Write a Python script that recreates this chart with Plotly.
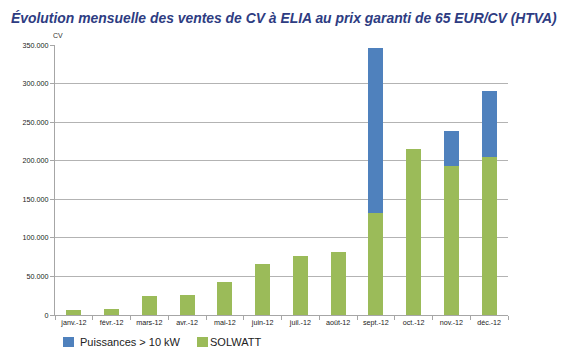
import plotly.graph_objects as go

months = ["janv.-12", "févr.-12", "mars-12", "avr.-12", "mai-12", "juin-12",
          "juil.-12", "août-12", "sept.-12", "oct.-12", "nov.-12", "déc.-12"]
solwatt = [6900, 7800, 25000, 25900, 42600, 65900, 77100, 82300, 132200, 214800, 193500, 205200]
puissances = [0, 0, 0, 0, 0, 0, 0, 0, 214300, 0, 45000, 84800]
y_ticks = [0, 50000, 100000, 150000, 200000, 250000, 300000, 350000]
y_tick_labels = ["0", "50.000", "100.000", "150.000", "200.000", "250.000", "300.000", "350.000"]

COL_SOL = "#9BBB59"
COL_PUI = "#4F81BD"
NAME_SOL = "SOLWATT"
NAME_PUI = "Puissances > 10 kW"

fig = go.Figure()
fig.add_trace(go.Bar(x=months, y=solwatt, name=NAME_SOL, marker_color=COL_SOL,
                     marker_line_width=0, showlegend=False))
fig.add_trace(go.Bar(x=months, y=puissances, name=NAME_PUI, marker_color=COL_PUI,
                     marker_line_width=0, showlegend=False))

# page body has an 8px margin: figure is sized/positioned to compensate
OFF = 8
W, H = 567 - OFF, 356 - OFF
L, R, T, B = 55 - OFF, 567 - 508, 45 - OFF, 356 - 315
pw, ph = W - L - R, H - T - B


def px_x(p):
    return (p - OFF - L) / pw


def px_y(p):
    return (H - B - (p - OFF)) / ph


fig.update_layout(
    width=W, height=H,
    barmode="stack", bargap=0.6,
    plot_bgcolor="white", paper_bgcolor="white",
    margin=dict(l=L, r=R, t=T, b=B, autoexpand=False),
    font=dict(family="Liberation Sans, Arial", color="#333"),
)

# title as annotation placed just inside the top edge
fig.add_annotation(text="Évolution mensuelle des ventes de CV à ELIA au prix garanti de 65 EUR/CV (HTVA)",
                   xref="paper", yref="paper", x=px_x(9), y=px_y(8), xanchor="left", yanchor="top",
                   showarrow=False,
                   font=dict(family="Liberation Sans, Arial", size=13.9, color="#2E3C82",
                             weight="bold", style="italic"))

# legend drawn manually to match reference spacing
for sx, tx, col, name in [(63, 78, COL_PUI, NAME_PUI), (197, 208, COL_SOL, NAME_SOL)]:
    fig.add_shape(type="rect", xref="paper", yref="paper",
                  x0=px_x(sx), x1=px_x(sx + 11), y0=px_y(347), y1=px_y(337),
                  fillcolor=col, line_width=0)
    fig.add_annotation(text=name, xref="paper", yref="paper", x=px_x(tx), y=px_y(342),
                       xanchor="left", yanchor="middle", showarrow=False,
                       font=dict(size=11, color="#222"))

fig.update_xaxes(showline=True, linecolor="#A6A6A6", linewidth=1, ticks="outside",
                 tickson="boundaries", ticklen=4, tickcolor="#A6A6A6",
                 tickfont=dict(size=7.2, color="#222"), showgrid=False)
fig.update_yaxes(range=[0, 350000], tickvals=y_ticks, ticktext=y_tick_labels,
                 showline=True, linecolor="#A6A6A6", linewidth=1, ticks="outside",
                 ticklen=4, tickcolor="#A6A6A6", gridcolor="#B3B3B3", gridwidth=1,
                 tickfont=dict(size=7.2, color="#222"), zeroline=False)
fig.add_annotation(text="CV", xref="paper", yref="paper", x=px_x(51), y=px_y(35),
                   xanchor="left", yanchor="middle", showarrow=False,
                   font=dict(size=7, color="#333"))
fig.write_html("out.html")
